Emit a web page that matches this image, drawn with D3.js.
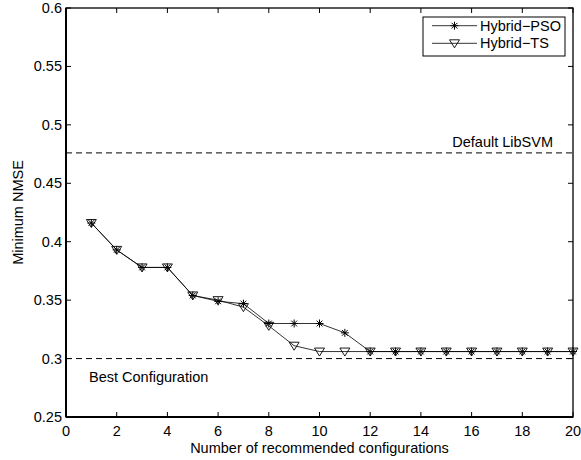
<!DOCTYPE html>
<html>
<head>
<meta charset="utf-8">
<script src="https://cdn.jsdelivr.net/npm/d3@7"></script>
<style>
html,body{margin:0;padding:0;background:#fff;}
svg{display:block;font-family:"Liberation Sans",Arial,Helvetica,sans-serif;}
</style>
</head>
<body>
<svg id="chart" width="581" height="460"></svg>
<script>
const configs = [1,2,3,4,5,6,7,8,9,10,11,12,13,14,15,16,17,18,19,20];
const hybridPSO = [0.416,0.393,0.378,0.378,0.354,0.349,0.347,0.330,0.330,0.330,0.322,0.306,0.306,0.306,0.306,0.306,0.306,0.306,0.306,0.306];
const hybridTS  = [0.416,0.393,0.378,0.378,0.354,0.350,0.344,0.328,0.311,0.306,0.306,0.306,0.306,0.306,0.306,0.306,0.306,0.306,0.306,0.306];
const xTicks = [0,2,4,6,8,10,12,14,16,18,20];
const yTicks = [0.25,0.3,0.35,0.4,0.45,0.5,0.55,0.6];
const refLines = [{label:"Default LibSVM", value:0.476},{label:"Best Configuration", value:0.300}];
const seriesNames = ["Hybrid\u2212PSO","Hybrid\u2212TS"];

const svg = d3.select("#chart");
const L=66, R=573, T=8, B=417;
const x = d3.scaleLinear().domain([0,20]).range([L,R]);
const y = d3.scaleLinear().domain([0.25,0.6]).range([B,T]);
const fs = "14.5px";

// white plot bg
svg.append("rect").attr("x",L).attr("y",T).attr("width",R-L).attr("height",B-T).attr("fill","#fff");

// reference dashed lines
refLines.forEach(r=>{
  svg.append("line").attr("x1",L).attr("x2",R).attr("y1",y(r.value)).attr("y2",y(r.value))
    .attr("stroke","#000").attr("stroke-width",1).attr("stroke-dasharray","6,4");
});
svg.append("text").attr("x",553).attr("y",y(refLines[0].value)-6).attr("text-anchor","end")
  .attr("font-size",fs).text(refLines[0].label);
svg.append("text").attr("x",89).attr("y",y(refLines[1].value)+23).attr("text-anchor","start")
  .attr("font-size",fs).text(refLines[1].label);

// markers
function star(g, cx, cy){
  const r=4, d=r*0.72;
  g.append("path").attr("d",`M${cx-r},${cy}L${cx+r},${cy}M${cx},${cy-r}L${cx},${cy+r}M${cx-d},${cy-d}L${cx+d},${cy+d}M${cx-d},${cy+d}L${cx+d},${cy-d}`)
    .attr("stroke","#000").attr("stroke-width",1).attr("fill","none");
}
function tri(g, cx, cy){
  g.append("path").attr("d",`M${cx-5},${cy-3.5}L${cx+5},${cy-3.5}L${cx},${cy+4.5}Z`)
    .attr("stroke","#000").attr("stroke-width",0.9).attr("fill","none");
}

const line = d3.line().x((d,i)=>x(configs[i])).y(d=>y(d));
const gP = svg.append("g");
gP.append("path").datum(hybridPSO).attr("d",line).attr("fill","none").attr("stroke","#000").attr("stroke-width",0.8);
hybridPSO.forEach((v,i)=>star(gP,x(configs[i]),y(v)));
const gT = svg.append("g");
gT.append("path").datum(hybridTS).attr("d",line).attr("fill","none").attr("stroke","#000").attr("stroke-width",0.8);
hybridTS.forEach((v,i)=>tri(gT,x(configs[i]),y(v)));

// axes box and ticks (inward)
const ax = svg.append("g");
ax.append("rect").attr("x",L).attr("y",T).attr("width",R-L).attr("height",B-T)
  .attr("fill","none").attr("stroke","#000").attr("stroke-width",1.3);
ax.append("line").attr("x1",L).attr("x2",L).attr("y1",T).attr("y2",B).attr("stroke","#000").attr("stroke-width",2);
ax.append("line").attr("x1",L).attr("x2",R).attr("y1",B).attr("y2",B).attr("stroke","#000").attr("stroke-width",2);
const tl=5;
xTicks.forEach(t=>{
  const px=x(t);
  ax.append("line").attr("x1",px).attr("x2",px).attr("y1",B).attr("y2",B-tl).attr("stroke","#000");
  ax.append("line").attr("x1",px).attr("x2",px).attr("y1",T).attr("y2",T+tl).attr("stroke","#000");
  ax.append("text").attr("x",px).attr("y",436).attr("text-anchor","middle").attr("font-size",fs).text(d3.format("d")(t));
});
yTicks.forEach(t=>{
  const py=y(t);
  ax.append("line").attr("x1",L).attr("x2",L+tl).attr("y1",py).attr("y2",py).attr("stroke","#000");
  ax.append("line").attr("x1",R).attr("x2",R-tl).attr("y1",py).attr("y2",py).attr("stroke","#000");
  ax.append("text").attr("x",62).attr("y",py+5).attr("text-anchor","end").attr("font-size",fs).text(String(+t.toFixed(2)));
});

// axis labels
svg.append("text").attr("x",(L+R)/2).attr("y",453).attr("text-anchor","middle").attr("font-size",fs)
  .text("Number of recommended configurations");
svg.append("text").attr("transform",`translate(23,${(T+B)/2}) rotate(-90)`).attr("text-anchor","middle").attr("font-size",fs)
  .text("Minimum NMSE");

// legend
const lg = svg.append("g");
lg.append("rect").attr("x",423).attr("y",17).attr("width",142).attr("height",39).attr("fill","#fff").attr("stroke","#000").attr("stroke-width",1);
const rows=[25.7,43.3];
seriesNames.forEach((n,i)=>{
  lg.append("line").attr("x1",432).attr("x2",477).attr("y1",rows[i]).attr("y2",rows[i]).attr("stroke","#000").attr("stroke-width",0.8);
  if(i===0) star(lg,454.5,rows[i]); else tri(lg,454.5,rows[i]);
  lg.append("text").attr("x",480).attr("y",rows[i]+5).attr("font-size",fs).text(n);
});
</script>
</body>
</html>
